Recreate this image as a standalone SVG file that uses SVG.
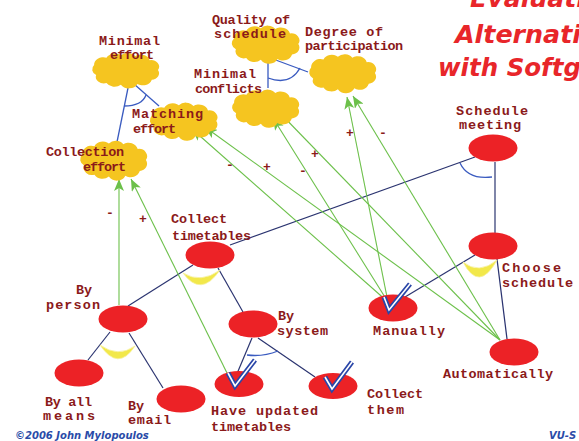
<svg xmlns="http://www.w3.org/2000/svg" xmlns:xlink="http://www.w3.org/1999/xlink" width="579" height="441" viewBox="0 0 579 441">
<style>
.lbl{font-family:"Liberation Mono","Courier New",monospace;font-weight:bold;font-size:13.5px;fill:#8B1A1A}
.sign{font-family:"Liberation Mono","Courier New",monospace;font-weight:bold;font-size:13px;fill:#8B1A1A}
.task{fill:#EC2226}
.cloud{fill:#F5C520}
.dec{stroke:#2B3470;stroke-width:1.2;fill:none}
.and{stroke:#3A5BC0;stroke-width:1.3;fill:none}
.or{fill:#F2E84A;stroke:#F6F09A;stroke-width:0.8}
.contr{stroke:#6CC04A;stroke-width:1.1;fill:none;marker-end:url(#ah)}
.chkb{stroke:#2A46A8;stroke-width:5;fill:none;stroke-linejoin:miter}
.chkw{stroke:#FFFFFF;stroke-width:1.6;fill:none}
.title{font-family:"Comic Sans MS","DejaVu Sans",sans-serif;font-weight:bold;font-style:italic;font-size:25px;fill:#E8262A}
.foot{font-family:"Comic Sans MS","DejaVu Sans",sans-serif;font-style:italic;font-weight:bold;font-size:10px;fill:#2A4BA8}
</style>
<defs>
<marker id="ah" viewBox="0 0 12 10" refX="12" refY="5" markerWidth="12" markerHeight="10" markerUnits="userSpaceOnUse" orient="auto">
<path d="M0,0 L12,5 L0,10 L3,5 Z" fill="#6CC04A"/>
</marker>
<path id="cloudshape" d="M-28,6 A8,8 0 0 1 -30,-6 A9,9 0 0 1 -18,-15 A9,9 0 0 1 -4,-18 A9,9 0 0 1 10,-17 A9,9 0 0 1 24,-12 A8,8 0 0 1 32,0 A8,8 0 0 1 26,12 A9,9 0 0 1 12,17 A9,9 0 0 1 -4,18 A9,9 0 0 1 -18,16 A8,8 0 0 1 -28,6 Z"/>
</defs>
<rect width="579" height="441" fill="#FFFFFF"/>

<g id="title">
<text class="title" x="470" y="7" textLength="115" lengthAdjust="spacingAndGlyphs">Evaluati</text>
<text class="title" x="455" y="43" textLength="126" lengthAdjust="spacingAndGlyphs">Alternati</text>
<text class="title" x="438" y="76" textLength="143" lengthAdjust="spacingAndGlyphs">with Softg</text>
</g>

<g id="connectors">
<line class="dec" x1="475" y1="157" x2="230" y2="245"/>
<line class="dec" x1="495" y1="162" x2="495" y2="233"/>
<line class="dec" x1="475" y1="255" x2="405" y2="297"/>
<line class="dec" x1="497" y1="259" x2="507" y2="339"/>
<line class="dec" x1="193" y1="265" x2="128" y2="306"/>
<line class="dec" x1="218" y1="268" x2="243" y2="312"/>
<line class="dec" x1="110" y1="332" x2="88" y2="360"/>
<line class="dec" x1="129" y1="333" x2="163" y2="388"/>
<line class="dec" x1="252" y1="338" x2="236" y2="376"/>
<line class="dec" x1="258" y1="338" x2="315" y2="377"/>
<line class="and" x1="128" y1="88" x2="117" y2="142"/>
<line class="and" x1="134" y1="84" x2="159" y2="106"/>
<line class="and" x1="268" y1="60" x2="268" y2="88"/>
<line class="and" x1="273" y1="59" x2="308" y2="72"/>
<path class="and" d="M460,163 Q468,180 492,177"/>
<path class="and" d="M247,355 Q263,357 278,351"/>
<path class="and" d="M124,106 Q142,106 146,95"/>
<path class="and" d="M268,78 Q290,86 300,68"/>
<path class="or" d="M183,273 Q201,298 220,270 Q201,284 183,273 Z"/>
<path class="or" d="M100,345 Q118,372 135,346 Q118,358 100,345 Z"/>
<path class="or" d="M463,262 Q479,293 497,260 Q479,275 463,262 Z"/>
<line class="contr" x1="119" y1="305" x2="119" y2="179"/>
<line class="contr" x1="227" y1="373" x2="131" y2="179"/>
<line class="contr" x1="388" y1="302" x2="192" y2="129"/>
<line class="contr" x1="500" y1="340" x2="205" y2="127"/>
<line class="contr" x1="388" y1="302" x2="273" y2="118"/>
<line class="contr" x1="500" y1="340" x2="279" y2="112"/>
<line class="contr" x1="388" y1="302" x2="347" y2="97"/>
<line class="contr" x1="500" y1="340" x2="353" y2="96"/>
<text class="sign" x="106" y="217">-</text>
<text class="sign" x="139" y="223">+</text>
<text class="sign" x="226" y="169">-</text>
<text class="sign" x="263" y="171">+</text>
<text class="sign" x="311" y="158">+</text>
<text class="sign" x="299" y="175">-</text>
<text class="sign" x="346" y="137">+</text>
<text class="sign" x="379" y="137">-</text>
</g>

<g id="minimal-effort">
<use xlink:href="#cloudshape" class="cloud" transform="translate(125,70) scale(1.03,0.82)"/>
<text class="lbl" x="99" y="45" textLength="61" lengthAdjust="spacing">Minimal</text>
<text class="lbl" x="110" y="59" textLength="44" lengthAdjust="spacing">effort</text>
</g>
<g id="matching-effort">
<use xlink:href="#cloudshape" class="cloud" transform="translate(183,121) scale(1.04,0.88)"/>
<text class="lbl" x="132" y="118" textLength="71" lengthAdjust="spacing">Matching</text>
<text class="lbl" x="133" y="133" textLength="43" lengthAdjust="spacing">effort</text>
</g>
<g id="collection-effort">
<use xlink:href="#cloudshape" class="cloud" transform="translate(113,160) scale(1.03,0.92)"/>
<text class="lbl" x="46" y="156" textLength="78" lengthAdjust="spacing">Collection</text>
<text class="lbl" x="83" y="171" textLength="43" lengthAdjust="spacing">effort</text>
</g>
<g id="quality-of-schedule">
<use xlink:href="#cloudshape" class="cloud" transform="translate(265,44) scale(1.04,0.88)"/>
<text class="lbl" x="212" y="24" textLength="78" lengthAdjust="spacing">Quality of</text>
<text class="lbl" x="214" y="38" textLength="72" lengthAdjust="spacing">schedule</text>
</g>
<g id="minimal-conflicts">
<use xlink:href="#cloudshape" class="cloud" transform="translate(265,108) scale(1.03,0.88)"/>
<text class="lbl" x="194" y="78" textLength="62" lengthAdjust="spacing">Minimal</text>
<text class="lbl" x="195" y="93" textLength="67" lengthAdjust="spacing">conflicts</text>
</g>
<g id="degree-of-participation">
<use xlink:href="#cloudshape" class="cloud" transform="translate(342,73) scale(1.03,0.9)"/>
<text class="lbl" x="305" y="36" textLength="78" lengthAdjust="spacing">Degree of</text>
<text class="lbl" x="305" y="50" textLength="98" lengthAdjust="spacing">participation</text>
</g>

<g id="schedule-meeting">
<ellipse class="task" cx="493" cy="148" rx="24.5" ry="13.5"/>
<text class="lbl" x="456" y="115" textLength="72" lengthAdjust="spacing">Schedule</text>
<text class="lbl" x="459" y="129" textLength="62" lengthAdjust="spacing">meeting</text>
</g>
<g id="collect-timetables">
<ellipse class="task" cx="210" cy="255" rx="24.5" ry="13.5"/>
<text class="lbl" x="171" y="223" textLength="56" lengthAdjust="spacing">Collect</text>
<text class="lbl" x="172" y="240" textLength="79" lengthAdjust="spacing">timetables</text>
</g>
<g id="choose-schedule">
<ellipse class="task" cx="493" cy="246" rx="24.5" ry="13.5"/>
<text class="lbl" x="502" y="272" textLength="59" lengthAdjust="spacing">Choose</text>
<text class="lbl" x="502" y="287" textLength="71" lengthAdjust="spacing">schedule</text>
</g>
<g id="by-person">
<ellipse class="task" cx="123" cy="319" rx="24.5" ry="13.5"/>
<text class="lbl" x="76" y="294">By</text>
<text class="lbl" x="46" y="309" textLength="54" lengthAdjust="spacing">person</text>
</g>
<g id="by-system">
<ellipse class="task" cx="253" cy="324" rx="24.5" ry="13.5"/>
<text class="lbl" x="278" y="320">By</text>
<text class="lbl" x="277" y="335" textLength="51" lengthAdjust="spacing">system</text>
</g>
<g id="manually">
<ellipse class="task" cx="393" cy="308" rx="24.5" ry="13.5"/>
<polyline class="chkb" points="384,297 389,310 410,284"/>
<polyline class="chkw" points="384,297 389,310 410,284"/>
<text class="lbl" x="373" y="335" textLength="72" lengthAdjust="spacing">Manually</text>
</g>
<g id="automatically">
<ellipse class="task" cx="514" cy="352" rx="24.5" ry="13.5"/>
<text class="lbl" x="443" y="378" textLength="110" lengthAdjust="spacing">Automatically</text>
</g>
<g id="by-all-means">
<ellipse class="task" cx="79" cy="373" rx="24.5" ry="13.5"/>
<text class="lbl" x="45" y="406" textLength="47" lengthAdjust="spacing">By all</text>
<text class="lbl" x="43" y="420" textLength="52" lengthAdjust="spacing">means</text>
</g>
<g id="by-email">
<ellipse class="task" cx="181" cy="399" rx="24.5" ry="13.5"/>
<text class="lbl" x="128" y="410">By</text>
<text class="lbl" x="128" y="424" textLength="43" lengthAdjust="spacing">email</text>
</g>
<g id="have-updated-timetables">
<ellipse class="task" cx="239" cy="384" rx="24.5" ry="13"/>
<polyline class="chkb" points="228,373 235,386 255,360"/>
<polyline class="chkw" points="228,373 235,386 255,360"/>
<text class="lbl" x="211" y="415" textLength="107" lengthAdjust="spacing">Have updated</text>
<text class="lbl" x="211" y="431" textLength="80" lengthAdjust="spacing">timetables</text>
</g>
<g id="collect-them">
<ellipse class="task" cx="333" cy="386" rx="24.5" ry="13"/>
<polyline class="chkb" points="325,377 332,389 352,362"/>
<polyline class="chkw" points="325,377 332,389 352,362"/>
<text class="lbl" x="367" y="398" textLength="56" lengthAdjust="spacing">Collect</text>
<text class="lbl" x="367" y="414" textLength="37" lengthAdjust="spacing">them</text>
</g>

<g id="footer">
<text class="foot" x="15" y="439">©2006  John Mylopoulos</text>
<text class="foot" x="549" y="439">VU-S</text>
</g>
</svg>
